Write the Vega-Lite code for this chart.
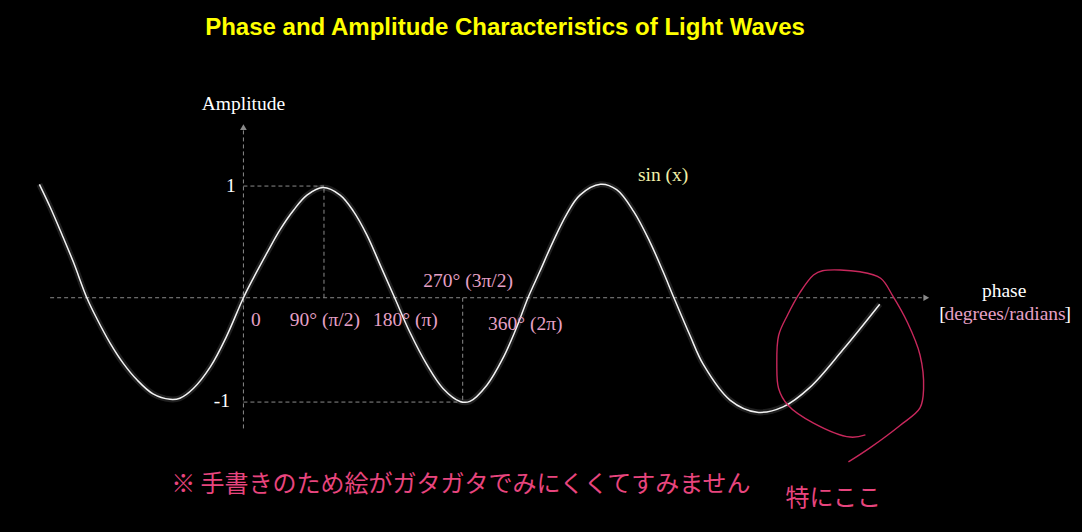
{
  "$schema": "https://vega.github.io/schema/vega-lite/v6.json",
  "autosize": "none",
  "padding": {"top": 45, "left": 0, "right": 0, "bottom": 0},
  "width": 1082,
  "height": 487,
  "background": "#000000",
  "title": {
    "text": "Phase and Amplitude Characteristics of Light Waves",
    "font": "Liberation Sans",
    "fontSize": 24,
    "fontWeight": "bold",
    "color": "#FFFF00",
    "anchor": "middle",
    "dx": -36,
    "dy": 26,
    "offset": 12,
    "baseline": "alphabetic"
  },
  "config": {"view": {"stroke": null}},
  "datasets": {
    "wave": [
      {"phase": -228, "amp": 1.05}, {"phase": -216, "amp": 0.84}, {"phase": -202, "amp": 0.57},
      {"phase": -190, "amp": 0.33}, {"phase": -175, "amp": 0}, {"phase": -164, "amp": -0.19},
      {"phase": -149, "amp": -0.42}, {"phase": -134, "amp": -0.61}, {"phase": -119, "amp": -0.76},
      {"phase": -101, "amp": -0.89}, {"phase": -82, "amp": -0.94}, {"phase": -71, "amp": -0.93},
      {"phase": -56, "amp": -0.84}, {"phase": -37, "amp": -0.64}, {"phase": -19, "amp": -0.36},
      {"phase": 0, "amp": 0}, {"phase": 11, "amp": 0.18}, {"phase": 26, "amp": 0.41},
      {"phase": 41, "amp": 0.63}, {"phase": 56, "amp": 0.81}, {"phase": 71, "amp": 0.95},
      {"phase": 89, "amp": 1.02}, {"phase": 108, "amp": 0.95}, {"phase": 123, "amp": 0.8},
      {"phase": 138, "amp": 0.58}, {"phase": 153, "amp": 0.3}, {"phase": 169, "amp": 0},
      {"phase": 186, "amp": -0.32}, {"phase": 205, "amp": -0.62}, {"phase": 223, "amp": -0.84},
      {"phase": 242, "amp": -0.96}, {"phase": 253, "amp": -0.96}, {"phase": 272, "amp": -0.81},
      {"phase": 290, "amp": -0.56}, {"phase": 305, "amp": -0.28}, {"phase": 318, "amp": 0},
      {"phase": 331, "amp": 0.24}, {"phase": 346, "amp": 0.52}, {"phase": 361, "amp": 0.77},
      {"phase": 376, "amp": 0.95}, {"phase": 399, "amp": 1.05}, {"phase": 417, "amp": 1.0},
      {"phase": 436, "amp": 0.8}, {"phase": 454, "amp": 0.52}, {"phase": 469, "amp": 0.24},
      {"phase": 481, "amp": 0}, {"phase": 499, "amp": -0.35}, {"phase": 514, "amp": -0.62},
      {"phase": 544, "amp": -0.95}, {"phase": 574, "amp": -1.06}, {"phase": 603, "amp": -1.01},
      {"phase": 633, "amp": -0.83}, {"phase": 670, "amp": -0.48}, {"phase": 711, "amp": -0.06}
    ],
    "loop": [
      {"i": 1, "phase": 695, "amp": -1.27}, {"i": 2, "phase": 678, "amp": -1.29},
      {"i": 3, "phase": 637, "amp": -1.16}, {"i": 4, "phase": 608, "amp": -0.99},
      {"i": 5, "phase": 598, "amp": -0.84}, {"i": 6, "phase": 596, "amp": -0.62},
      {"i": 7, "phase": 598, "amp": -0.35}, {"i": 8, "phase": 608, "amp": -0.16},
      {"i": 9, "phase": 622, "amp": 0.05}, {"i": 10, "phase": 637, "amp": 0.21},
      {"i": 11, "phase": 647, "amp": 0.25}, {"i": 12, "phase": 689, "amp": 0.24},
      {"i": 13, "phase": 712, "amp": 0.18}, {"i": 14, "phase": 726, "amp": 0.01},
      {"i": 15, "phase": 742, "amp": -0.23}, {"i": 16, "phase": 756, "amp": -0.53},
      {"i": 17, "phase": 760, "amp": -0.84}, {"i": 18, "phase": 756, "amp": -1.02},
      {"i": 19, "phase": 734, "amp": -1.18}, {"i": 20, "phase": 700, "amp": -1.39},
      {"i": 21, "phase": 676, "amp": -1.52}
    ],
    "guides": [
      {"x": -216, "x2": 758, "y": 0, "y2": 0},
      {"x": 0, "x2": 0, "y": -1.21, "y2": 1.55},
      {"x": 0, "x2": 90, "y": 1.034, "y2": 1.034},
      {"x": 90, "x2": 90, "y": 0, "y2": 1.034},
      {"x": 0, "x2": 245, "y": -0.966, "y2": -0.966},
      {"x": 245, "x2": 245, "y": 0, "y2": -0.966}
    ]
  },
  "layer": [
    {
      "data": {"name": "guides"},
      "mark": {"type": "rule", "color": "#8a8a8a", "strokeWidth": 1, "strokeDash": [4, 3]},
      "encoding": {
        "x": {"field": "x", "type": "quantitative", "scale": {"domain": [-272, 937], "nice": false, "zero": false}, "axis": null},
        "x2": {"field": "x2"},
        "y": {"field": "y", "type": "quantitative", "scale": {"domain": [-2.169, 2.34], "nice": false, "zero": false}, "axis": null},
        "y2": {"field": "y2"}
      }
    },
    {
      "data": {"values": [{"x": 763, "y": 0, "shape": "triangle-right"}, {"x": 0, "y": 1.58, "shape": "triangle-up"}]},
      "mark": {"type": "point", "filled": true, "color": "#8a8a8a", "size": 45, "opacity": 1},
      "encoding": {
        "x": {"field": "x", "type": "quantitative"},
        "y": {"field": "y", "type": "quantitative"},
        "shape": {"field": "shape", "type": "nominal", "scale": null}
      }
    },
    {
      "data": {"name": "wave"},
      "mark": {"type": "line", "color": "#ffffff", "strokeWidth": 6, "opacity": 0.12, "interpolate": "catmull-rom"},
      "encoding": {
        "x": {"field": "phase", "type": "quantitative"},
        "y": {"field": "amp", "type": "quantitative"}
      }
    },
    {
      "data": {"name": "wave"},
      "mark": {"type": "line", "color": "#f4f4f4", "strokeWidth": 1.5, "interpolate": "catmull-rom"},
      "encoding": {
        "x": {"field": "phase", "type": "quantitative"},
        "y": {"field": "amp", "type": "quantitative"}
      }
    },
    {
      "data": {"name": "loop"},
      "mark": {"type": "line", "color": "#c8285c", "strokeWidth": 1.4, "interpolate": "catmull-rom"},
      "encoding": {
        "x": {"field": "phase", "type": "quantitative"},
        "y": {"field": "amp", "type": "quantitative"},
        "order": {"field": "i", "type": "quantitative"}
      }
    },
    {
      "data": {"values": [
        {"x": 0, "y": 1.794, "label": "Amplitude"},
        {"x": -14, "y": 1.034, "label": "1"},
        {"x": -24, "y": -0.957, "label": "-1"},
        {"x": 850, "y": 0.062, "label": "phase"},
        {"x": 781, "y": -0.15, "label": "["},
        {"x": 921, "y": -0.15, "label": "]"}
      ]},
      "mark": {"type": "text", "font": "Liberation Serif", "fontSize": 19.5, "color": "#ffffff", "align": "center", "baseline": "middle"},
      "encoding": {
        "x": {"field": "x", "type": "quantitative"},
        "y": {"field": "y", "type": "quantitative"},
        "text": {"field": "label"}
      }
    },
    {
      "data": {"values": [
        {"x": 14, "y": -0.206, "label": "0"},
        {"x": 91, "y": -0.206, "label": "90° (π/2)"},
        {"x": 181, "y": -0.206, "label": "180° (π)"},
        {"x": 251, "y": 0.154, "label": "270° (3π/2)"},
        {"x": 315, "y": -0.244, "label": "360° (2π)"},
        {"x": 851, "y": -0.15, "label": "degrees/radians"}
      ]},
      "mark": {"type": "text", "font": "Liberation Serif", "fontSize": 19.5, "color": "#e6a0c6", "align": "center", "baseline": "middle"},
      "encoding": {
        "x": {"field": "x", "type": "quantitative"},
        "y": {"field": "y", "type": "quantitative"},
        "text": {"field": "label"}
      }
    },
    {
      "data": {"values": [{"x": 469, "y": 1.136, "label": "sin (x)"}]},
      "mark": {"type": "text", "font": "Liberation Serif", "fontSize": 19.5, "color": "#f0f0a8", "align": "center", "baseline": "middle"},
      "encoding": {
        "x": {"field": "x", "type": "quantitative"},
        "y": {"field": "y", "type": "quantitative"},
        "text": {"field": "label"}
      }
    },
    {
      "data": {"values": [
        {"x": 243, "y": -1.734, "label": "※ 手書きのため絵がガタガタでみにくくてすみません"},
        {"x": 659, "y": -1.864, "label": "特にここ"}
      ]},
      "mark": {"type": "text", "font": "Noto Sans CJK JP", "fontSize": 24, "color": "#e8457e", "align": "center", "baseline": "middle"},
      "encoding": {
        "x": {"field": "x", "type": "quantitative"},
        "y": {"field": "y", "type": "quantitative"},
        "text": {"field": "label"}
      }
    }
  ]
}
